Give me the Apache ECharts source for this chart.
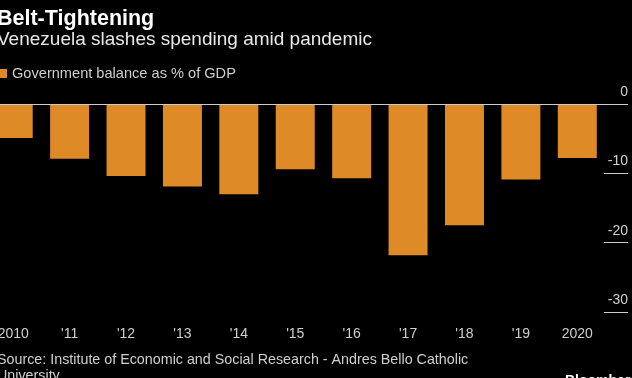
<!DOCTYPE html>
<html>
<head>
<meta charset="utf-8">
<script src="https://cdn.jsdelivr.net/npm/echarts@6/dist/echarts.min.js"></script>
<style>
html,body{margin:0;padding:0;background:#000;}
#c{width:632px;height:378px;}
</style>
</head>
<body>
<div id="c"></div>
<script>
var categories = ['2010', "'11", "'12", "'13", "'14", "'15", "'16", "'17", "'18", "'19", '2020'];
var balance = [-4.9, -7.9, -10.4, -11.9, -13.0, -9.4, -10.7, -21.8, -17.5, -10.9, -7.8];
var yTicks = [-30, -20, -10, 0];

var chart = echarts.init(document.getElementById('c'), null, {renderer: 'canvas'});
var FONT = '"Liberation Sans", "DejaVu Sans", sans-serif';
chart.setOption({
  backgroundColor: '#000',
  animation: false,
  textStyle: {fontFamily: FONT},
  title: [
    {text: 'Belt-Tightening', left: -8, top: 3, padding: 5,
     textStyle: {color: '#ffffff', fontSize: 21.5, fontWeight: 'bold', fontFamily: FONT}},
    {text: 'Venezuela slashes spending amid pandemic', left: -8, top: 25, padding: 5,
     textStyle: {color: '#e8e8e8', fontSize: 19, fontWeight: 'normal', fontFamily: FONT}},
    {text: 'Source: Institute of Economic and Social Research - Andres Bello Catholic\nUniversity', left: -8, top: 347, padding: 5,
     textStyle: {color: '#cfcfcf', fontSize: 14.3, fontWeight: 'normal', lineHeight: 16, fontFamily: FONT}},
    {text: 'Bloomberg', left: 560, top: 369, padding: 5,
     textStyle: {color: '#ffffff', fontSize: 14, fontWeight: 'bold', fontFamily: FONT}}
  ],
  legend: {
    left: -7, top: 61, itemWidth: 9, itemHeight: 9, itemGap: 5,
    icon: 'rect',
    textStyle: {color: '#cfcfcf', fontSize: 14.6, fontFamily: FONT},
    data: ['Government balance as % of GDP']
  },
  grid: {left: -15, top: 104, width: 620.5, height: 208, containLabel: false, outerBoundsMode: 'none'},
  xAxis: {
    type: 'category', data: categories,
    axisLine: {show: false},
    axisTick: {show: true, alignWithLabel: true, length: 5, lineStyle: {color: '#cccccc'}},
    axisLabel: {color: '#cfcfcf', fontSize: 14, margin: 15, fontFamily: FONT},
    splitLine: {show: false}
  },
  yAxis: {
    type: 'value', position: 'right', offset: 22.5,
    min: yTicks[0], max: yTicks[yTicks.length - 1], interval: 10,
    axisLine: {show: false},
    axisTick: {show: true, inside: true, length: 24, lineStyle: {color: '#cccccc', width: 1}},
    axisLabel: {inside: true, margin: 0, color: '#cfcfcf', fontSize: 14, verticalAlign: 'bottom',
      padding: [0, 0, 5, 0], fontFamily: FONT},
    splitLine: {show: false}
  },
  series: [{
    name: 'Government balance as % of GDP',
    type: 'bar', data: balance, barWidth: 39,
    itemStyle: {color: '#dd8a27'},
    markLine: {
      silent: true, symbol: 'none', label: {show: false},
      lineStyle: {color: '#cccccc', type: 'solid', width: 1},
      data: [{yAxis: 0}]
    }
  }]
});
</script>
</body>
</html>
